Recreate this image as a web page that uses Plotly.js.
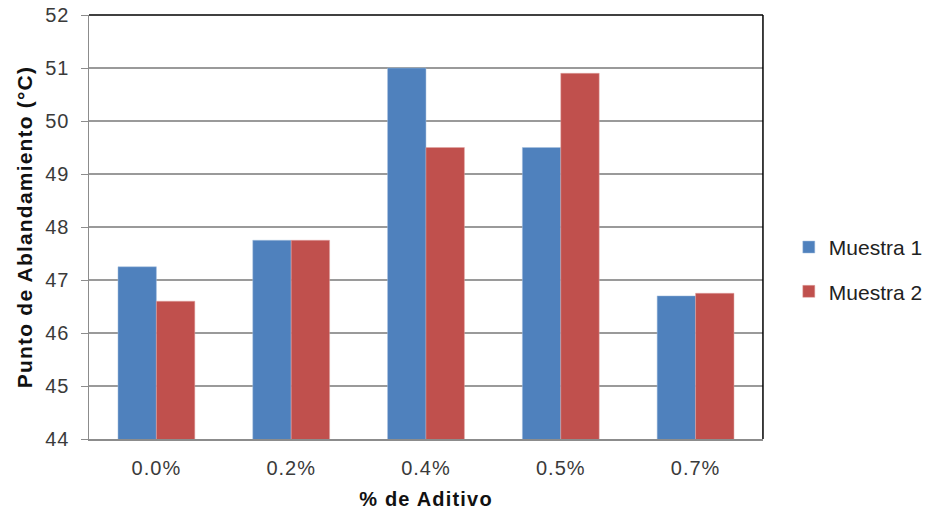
<!DOCTYPE html>
<html>
<head>
<meta charset="utf-8">
<script src="https://cdn.plot.ly/plotly-3.0.1.min.js"></script>
<style>
html,body{margin:0;padding:0;background:#fff;}
#chart{width:928px;height:516px;}
#chart .xtick text, #chart .ytick text{letter-spacing:1px;}
#chart .xtitle, #chart .ytitle{letter-spacing:1.2px;}
</style>
</head>
<body>
<div id="chart"></div>
<script>
const categories = ["0.0%", "0.2%", "0.4%", "0.5%", "0.7%"];
const muestra1 = [47.25, 47.75, 51.0, 49.5, 46.7];
const muestra2 = [46.6, 47.75, 49.5, 50.9, 46.75];
const seriesNames = ["Muestra 1", "Muestra 2"];
const yTicks = [44, 45, 46, 47, 48, 49, 50, 51, 52];

const font = "Liberation Sans, Arial, sans-serif";
const W = 928, L = 89, R = 767;
const paperW = W - L;
const data = [
  {type: "bar", x: categories, y: muestra1, name: seriesNames[0], legendgroup: "a",
   marker: {color: "#4F81BD", line: {color: "#A7C0DE", width: 0.5}}},
  {type: "bar", x: categories, y: muestra2, name: seriesNames[1], legendgroup: "b",
   marker: {color: "#C0504D", line: {color: "#E0A5A3", width: 0.5}}}
];
const layout = {
  width: W, height: 516,
  margin: {l: L, r: 0, t: 15, b: 77},
  paper_bgcolor: "#fff", plot_bgcolor: "#fff",
  barmode: "group", bargap: 0.43, bargroupgap: 0,
  font: {family: font, color: "#222", size: 20},
  xaxis: {
    type: "category",
    domain: [0, (R - L) / paperW],
    tickfont: {size: 20, color: "#3a3a3a"},
    showline: true, linecolor: "#8c8c8c", linewidth: 1.5,
    mirror: false, ticks: "outside", ticklen: 10, tickcolor: "rgba(0,0,0,0)", showgrid: false,
    title: {text: "<b>% de Aditivo</b>", font: {size: 20, color: "#111"}, standoff: 14}
  },
  yaxis: {
    range: [44, 52], tickvals: yTicks, ticktext: yTicks.map(String),
    tickfont: {size: 20, color: "#3a3a3a"},
    showgrid: true, gridcolor: "#9a9a9a", gridwidth: 1.2,
    showline: true, linecolor: "#8c8c8c", linewidth: 1.5,
    ticks: "outside", ticklen: 7, tickcolor: "#8c8c8c", ticklabelstandoff: 7,
    zeroline: false,
    title: {text: "<b>Punto de Ablandamiento (°C)</b>", font: {size: 21, color: "#111"}, standoff: 9}
  },
  legend: {x: (793 - L) / paperW, y: 0.40, xanchor: "left", yanchor: "middle",
    font: {size: 21, color: "#222"}, traceorder: "grouped", tracegroupgap: 14, itemwidth: 30},
  showlegend: true,
  shapes: [
    {type: "line", xref: "x domain", yref: "paper", x0: 0, x1: 1, y0: 1, y1: 1, line: {color: "#000", width: 1.5}},
    {type: "line", xref: "x domain", yref: "paper", x0: 1, x1: 1, y0: 0, y1: 1, line: {color: "#000", width: 1.5}}
  ]
};
Plotly.newPlot("chart", data, layout, {displayModeBar: false, staticPlot: true});
</script>
</body>
</html>
